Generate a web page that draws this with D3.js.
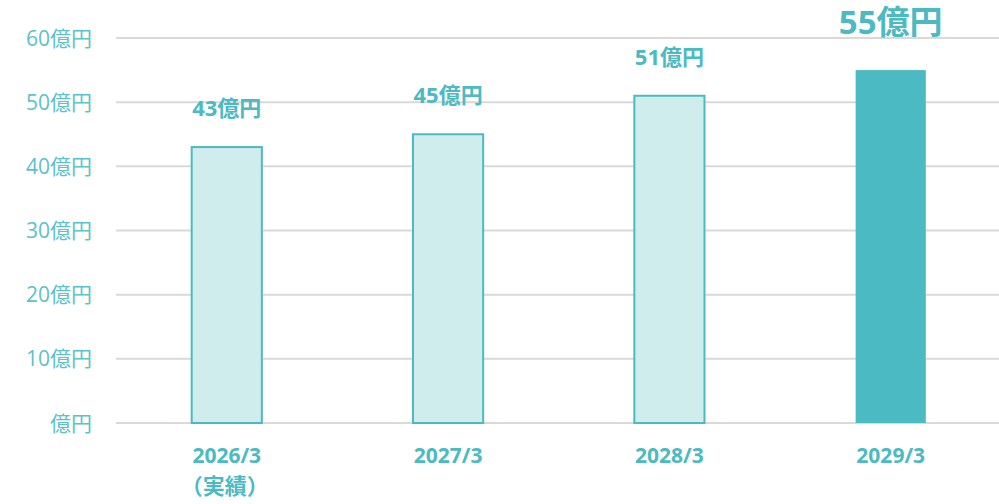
<!DOCTYPE html>
<html>
<head>
<meta charset="utf-8">
<script src="https://cdn.jsdelivr.net/npm/d3@7"></script>
<style>
  body { margin: 0; background: #fff; }
  #chart { width: 999px; height: 504px; }
</style>
</head>
<body>
<div id="chart"></div>
<script>
const periodos = ["2026/3", "2027/3", "2028/3", "2029/3"];
const notas = ["（実績）", "", "", ""];
const valores = [43, 45, 51, 55];
const destaque = [false, false, false, true];
const ticksY = [0, 10, 20, 30, 40, 50, 60];

const width = 999, height = 504;
const margins = { top: 38, right: -2.5, bottom: 81, left: 116 };
const fonte = "'Open Sans', 'Noto Sans CJK JP', sans-serif";
const cor = "#4bbac2";

const svg = d3.select("#chart").append("svg")
  .attr("width", width)
  .attr("height", height);

const xScale = d3.scaleBand()
  .domain(periodos)
  .range([margins.left, width - margins.right])
  .paddingInner(0.683)
  .paddingOuter(0.342);

const yScale = d3.scaleLinear()
  .domain([0, 60])
  .range([height - margins.bottom, margins.top]);

// grade
svg.append("g")
  .selectAll("line")
  .data(ticksY)
  .join("line")
  .attr("x1", margins.left)
  .attr("x2", width)
  .attr("y1", d => yScale(d))
  .attr("y2", d => yScale(d))
  .attr("stroke", "#d9d9d9")
  .attr("stroke-width", 2);

// rotulos do eixo y
svg.append("g")
  .selectAll("text")
  .data(ticksY)
  .join("text")
  .attr("x", 92)
  .attr("y", d => yScale(d))
  .attr("dy", "0.36em")
  .attr("text-anchor", "end")
  .attr("font-family", fonte)
  .attr("font-size", "21px")
  .attr("fill", "#5cc2c9")
  .text(d => (d === 0 ? "" : d) + "億円");

// barras
svg.append("g")
  .selectAll("rect")
  .data(valores)
  .join("rect")
  .attr("x", (d, i) => xScale(periodos[i]))
  .attr("y", d => yScale(d))
  .attr("width", xScale.bandwidth())
  .attr("height", d => yScale(0) - yScale(d))
  .attr("fill", (d, i) => destaque[i] ? cor : "#d0eded")
  .attr("stroke", (d, i) => destaque[i] ? "none" : cor)
  .attr("stroke-width", 2);

// valores
svg.append("g")
  .selectAll("text")
  .data(valores)
  .join("text")
  .attr("x", (d, i) => xScale(periodos[i]) + xScale.bandwidth() / 2)
  .attr("y", (d, i) => yScale(d) - (destaque[i] ? 36 : 31))
  .attr("text-anchor", "middle")
  .attr("font-family", fonte)
  .attr("font-weight", "bold")
  .attr("font-size", (d, i) => destaque[i] ? "33px" : "22px")
  .attr("fill", cor)
  .text(d => d + "億円");

// rotulos do eixo x
const rotX = svg.append("g")
  .selectAll("text")
  .data(periodos)
  .join("text")
  .attr("x", d => xScale(d) + xScale.bandwidth() / 2)
  .attr("y", 463)
  .attr("text-anchor", "middle")
  .attr("font-family", fonte)
  .attr("font-weight", "bold")
  .attr("font-size", "21px")
  .attr("fill", cor);

rotX.append("tspan")
  .attr("x", d => xScale(d) + xScale.bandwidth() / 2)
  .text(d => d);

rotX.append("tspan")
  .attr("x", d => xScale(d) + xScale.bandwidth() / 2 - 2)
  .attr("dy", 31)
  .attr("font-size", "22px")
  .text((d, i) => notas[i]);
</script>
</body>
</html>
